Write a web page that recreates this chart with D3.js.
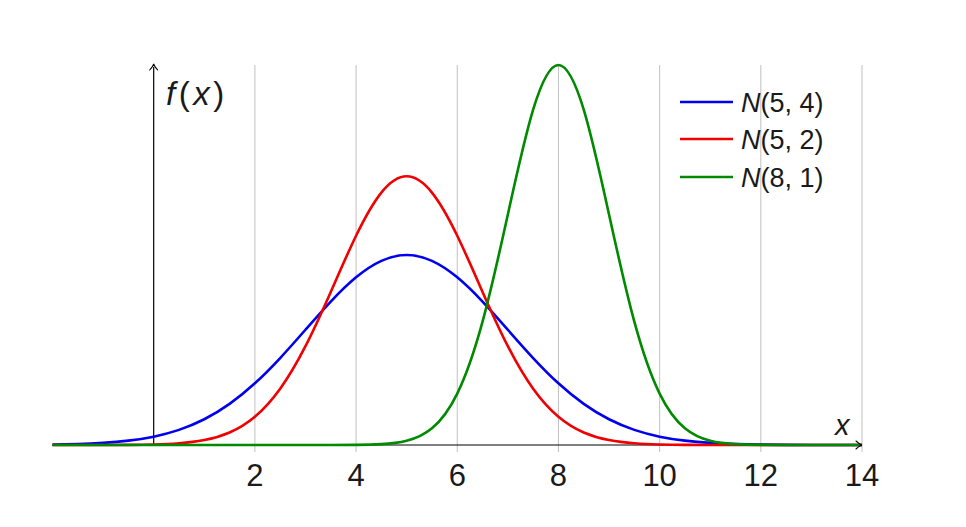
<!DOCTYPE html>
<html>
<head>
<meta charset="utf-8">
<script src="https://cdn.jsdelivr.net/npm/d3@7"></script>
<style>
  html, body { margin: 0; padding: 0; background: #fff; }
  svg text { font-family: "Liberation Sans", Arial, sans-serif; fill: #1a1a1a; }
</style>
</head>
<body>
<svg id="chart" width="966" height="527"></svg>
<script>
// Sample points (x) shared by all three density curves
const xs = [-2, -1.5, -1, -0.5, 0, 0.5, 1, 1.5, 2, 2.5, 3, 3.5, 4, 4.5, 5, 5.5, 6, 6.5, 7, 7.5,
            8, 8.5, 9, 9.5, 10, 10.5, 11, 11.5, 12, 12.5, 13, 13.5, 14];

// N(5,4)
const n54 = [0.00044, 0.00101, 0.00222, 0.00455, 0.00876, 0.01587, 0.02700, 0.04314, 0.06476,
             0.09132, 0.12099, 0.15057, 0.17603, 0.19333, 0.19947, 0.19333, 0.17603, 0.15057,
             0.12099, 0.09132, 0.06476, 0.04314, 0.02700, 0.01587, 0.00876, 0.00455, 0.00222,
             0.00101, 0.00044, 0.00018, 0.00007, 0.00002, 0.00001];
// N(5,2)
const n52 = [0.000001, 0.000007, 0.000035, 0.000147, 0.000545, 0.00179, 0.00517, 0.01319, 0.02973,
             0.05913, 0.10378, 0.16073, 0.21970, 0.26500, 0.28210, 0.26500, 0.21970, 0.16073,
             0.10378, 0.05913, 0.02973, 0.01319, 0.00517, 0.00179, 0.000545, 0.000147, 0.000035,
             0.000007, 0.000001, 0, 0, 0, 0];
// N(8,1)
const n81 = [0, 0, 0, 0, 0, 0, 0, 0, 0, 0, 0.0000015, 0.000016, 0.000134, 0.000873, 0.00443,
             0.01753, 0.05399, 0.12952, 0.24197, 0.35207, 0.39894, 0.35207, 0.24197, 0.12952,
             0.05399, 0.01753, 0.00443, 0.000873, 0.000134, 0.000016, 0.0000015, 0, 0];

const seriesNames = ["(5, 4)", "(5, 2)", "(8, 1)"];
const seriesColors = ["#0000f0", "#f00000", "#008a00"];
const seriesValues = [n54, n52, n81];
const xTicks = [2, 4, 6, 8, 10, 12, 14];

const svg = d3.select("#chart");
const x = d3.scaleLinear().domain([-2, 14]).range([52.5, 862]);
const y = d3.scaleLinear().domain([0, 0.39894]).range([445, 65]);

// vertical grid lines (extend slightly below the axis as tick marks)
svg.append("g").selectAll("line").data(xTicks).join("line")
  .attr("x1", d => x(d)).attr("x2", d => x(d))
  .attr("y1", y(0) + 7).attr("y2", y(0.39894))
  .attr("stroke", "#c0c0c0").attr("stroke-width", 1);

// tick labels
svg.append("g").selectAll("text").data(xTicks).join("text")
  .attr("x", d => x(d)).attr("y", 486)
  .attr("text-anchor", "middle")
  .attr("font-size", 31)
  .text(d => d);

// axes
svg.append("line")
  .attr("x1", x(-2)).attr("x2", x(14) - 2)
  .attr("y1", y(0)).attr("y2", y(0))
  .attr("stroke", "#000").attr("stroke-width", 1);
svg.append("line")
  .attr("x1", x(0)).attr("x2", x(0))
  .attr("y1", y(0)).attr("y2", y(0.39894) + 2)
  .attr("stroke", "#000").attr("stroke-width", 1.2);

// density curves
const line = d3.line()
  .x((d, i) => x(xs[i]))
  .y(d => y(d))
  .curve(d3.curveNatural);

svg.append("g").selectAll("path").data(seriesValues).join("path")
  .attr("d", d => line(d))
  .attr("fill", "none")
  .attr("stroke", (d, i) => seriesColors[i])
  .attr("stroke-width", 2.6)
  .attr("stroke-linejoin", "round");

// arrow heads
function arrowHead(px, py, angle) {
  svg.append("path")
    .attr("d", "M-6,-4 Q-2,-0.5 0,0 Q-2,0.5 -6,4")
    .attr("fill", "none").attr("stroke", "#000").attr("stroke-width", 1.1)
    .attr("stroke-linecap", "round")
    .attr("transform", `translate(${px},${py}) rotate(${angle})`);
}
arrowHead(x(14), y(0), 0);
arrowHead(x(0), y(0.39894) - 1, -90);

// axis labels
const fx = svg.append("text").attr("x", 166).attr("y", 105)
  .attr("font-size", 33).attr("letter-spacing", 3.5);
fx.append("tspan").attr("font-style", "italic").text("f");
fx.append("tspan").text("(");
fx.append("tspan").attr("font-style", "italic").text("x");
fx.append("tspan").text(")");

svg.append("text").attr("x", 835).attr("y", 435)
  .attr("font-size", 29).attr("font-style", "italic").text("x");

// legend
const legendY = [102, 139, 177];
const lg = svg.append("g").selectAll("g").data(seriesNames).join("g")
  .attr("transform", (d, i) => `translate(0,${legendY[i]})`);
lg.append("line")
  .attr("x1", 680).attr("x2", 733).attr("y1", 0).attr("y2", 0)
  .attr("stroke", (d, i) => seriesColors[i]).attr("stroke-width", 2.6);
const lt = lg.append("text").attr("x", 741).attr("y", 10).attr("font-size", 27);
lt.append("tspan").attr("font-style", "italic").text("N");
lt.append("tspan").text(d => d);
</script>
</body>
</html>
